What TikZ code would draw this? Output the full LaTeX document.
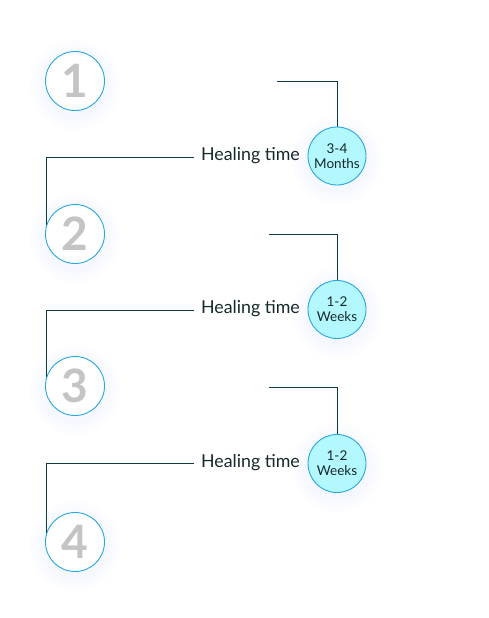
\documentclass[tikz,border=0pt]{standalone}
\usepackage{fontspec}
\setmainfont{Lato}
\begin{document}
\begin{tikzpicture}[x=1pt,y=-1pt,
  numcirc/.style={circle,draw=cyanline,line width=0.9pt,fill=white,minimum size=59pt,inner sep=0pt,
     font=\fontsize{46}{46}\selectfont\bfseries,text=digitgray},
  timecirc/.style={circle,draw=cyanline,line width=0.9pt,fill=timefill,minimum size=58pt,inner sep=0pt,
     font=\fontsize{13.5}{15}\selectfont,text=darktext,align=center},
  heal/.style={font=\fontsize{17.8}{20}\selectfont,text=darktext,inner sep=0pt,anchor=east},
  conn/.style={draw=tealline,line width=0.9pt}]
\definecolor{cyanline}{HTML}{27A6DF}
\definecolor{digitgray}{HTML}{C4C4C4}
\definecolor{timefill}{HTML}{B4F8FF}
\definecolor{darktext}{HTML}{15282A}
\definecolor{tealline}{HTML}{0E3C3D}
\definecolor{glow}{HTML}{D0D8FF}
\useasboundingbox (0,0) rectangle (488,618);
% glows
\foreach \cx/\cy in {75/81,75/234,75/386,75/542,337/156,337/309.5,337/463.5}{
  \foreach \r in {45,42,39,36,33}{
    \fill[glow,opacity=0.04] (\cx,\cy+4) circle (\r);
  }
}
% coordinates for connector corners
\coordinate (t1) at (277,81.5);
\coordinate (t2) at (269,234.5);
\coordinate (t3) at (269,387);
\coordinate (l1) at (46,157);
\coordinate (l2) at (46,310);
\coordinate (l3) at (46,463);
% heal labels
\node[heal] (h1) at (300,156) {Healing time};
\node[heal] (h2) at (300,309) {Healing time};
\node[heal] (h3) at (300,462.5) {Healing time};
% connectors
\draw[conn] (t1) -| (337,130);
\draw[conn] (t2) -| (337,283);
\draw[conn] (t3) -| (337,437);
\draw[conn] ([xshift=-7pt]h1.west |- l1) -- (l1) -- (46,234);
\draw[conn] ([xshift=-7pt]h2.west |- l2) -- (l2) -- (46,386);
\draw[conn] ([xshift=-7pt]h3.west |- l3) -- (l3) -- (46,542);
% number circles
\node[numcirc] (n1) at (75,81) {1};
\node[numcirc] (n2) at (75,234) {2};
\node[numcirc] (n3) at (75,386) {3};
\node[numcirc] (n4) at (75,542) {4};
% time circles
\node[timecirc] (c1) at (337,156) {3-4\\Months};
\node[timecirc] (c2) at (337,309.5) {1-2\\Weeks};
\node[timecirc] (c3) at (337,463.5) {1-2\\Weeks};
\end{tikzpicture}
\end{document}
